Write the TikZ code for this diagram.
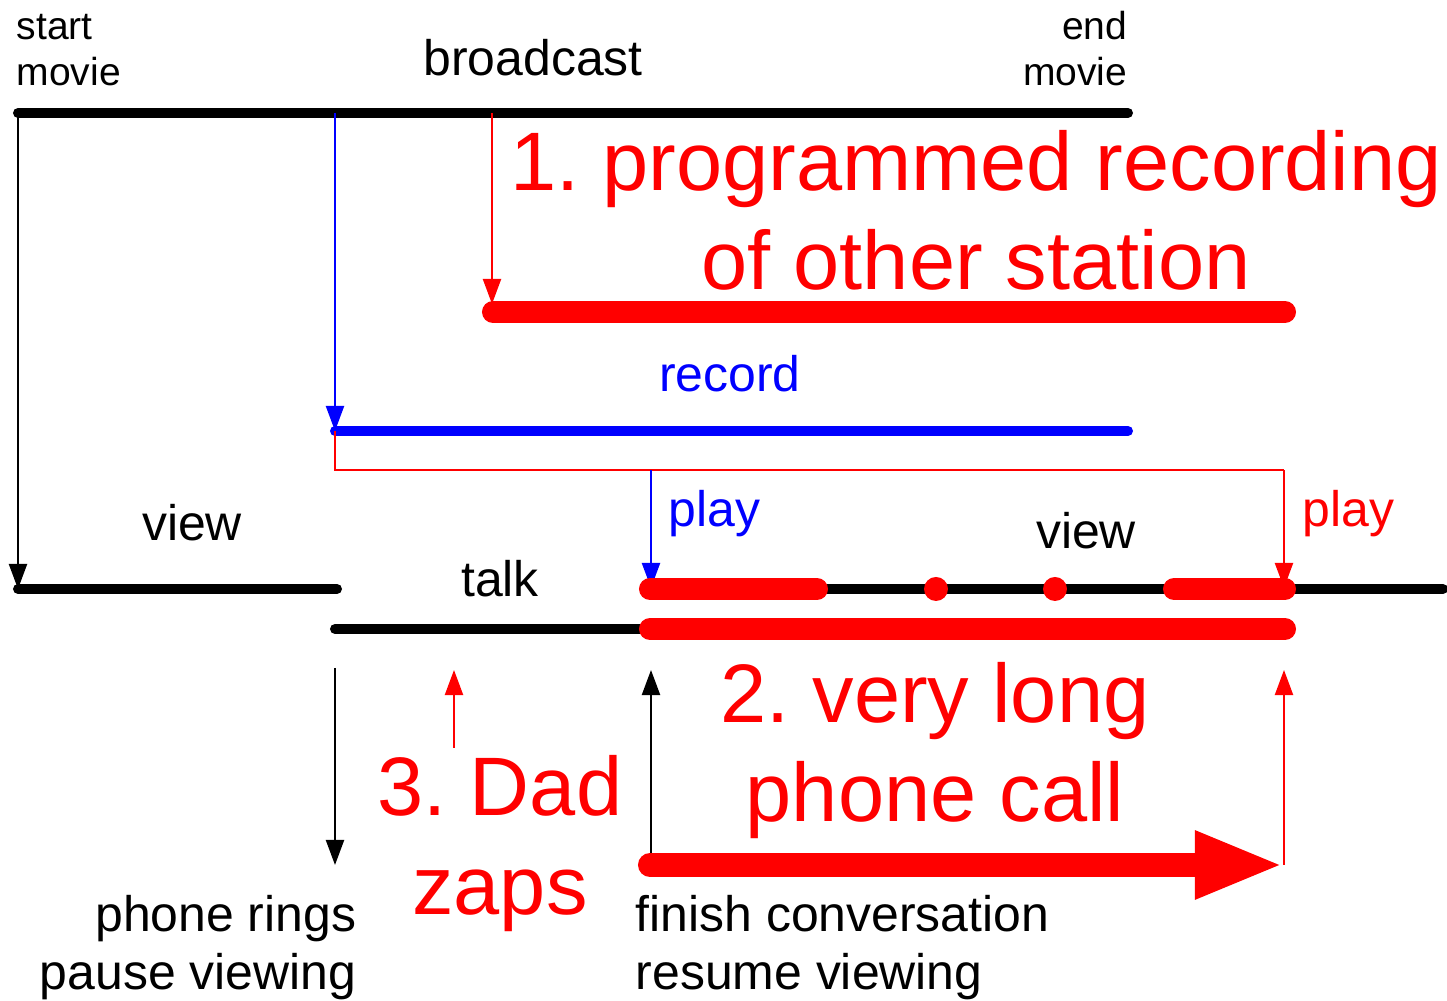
\documentclass[tikz,border=0pt]{standalone}
\usepackage{fontspec}
\setmainfont{Liberation Sans}
\usetikzlibrary{arrows.meta}
\frenchspacing

\tikzset{
    small/.style={font=\fontsize{11.1pt}{13.1pt}\selectfont, inner sep=0pt},
    label/.style={font=\fontsize{14.2pt}{16.5pt}\selectfont, inner sep=0pt},
    big/.style={font=\fontsize{23.6pt}{28.4pt}\selectfont, inner sep=0pt, text=red, align=center},
    timeline/.style={line width=0.1cm, line cap=round},
    fatline/.style={line width=0.22cm, line cap=round, red},
    jump/.style={line width=0.6pt, -{Triangle[length=0.25cm, width=0.18cm]}},
}

\begin{document}
\begin{tikzpicture}[x=0.01cm, y=-0.01cm]
    \useasboundingbox (0, 0) rectangle (1447, 1001);
    % broadcast
    \coordinate (bcStart) at (18, 113);
    \coordinate (bcEnd) at (1128, 113);
    \draw[timeline] (bcStart) -- (bcEnd);
    \node[small, align=left, anchor=base west] (startMovie) at (16, 86) {start\\movie};
    \node[small, align=right, anchor=base east] (endMovie) at (1128, 86) {end\\movie};
    \node[label, anchor=base] (broadcast) at (533, 76) {broadcast};
    % 1. programmed recording
    \coordinate (progTap) at (492, 113);
    \coordinate (progStart) at (493, 312);
    \coordinate (progEnd) at (1285, 312);
    \draw[fatline] (progStart) -- (progEnd);
    \draw[red, jump] (progTap) -- (492, 304);
    \node[big, anchor=base] (progText) at (976, 290) {1. programmed recording\\of other station};
    % record
    \coordinate (recTap) at (335, 113);
    \coordinate (recStart) at (335, 431);
    \coordinate (recEnd) at (1128, 431);
    \draw[blue, timeline] (recStart) -- (recEnd);
    \draw[blue, jump] (recTap) -- (recStart);
    \node[label, anchor=base, text=blue] (record) at (730, 392) {record};
    % play back
    \coordinate (playCorner) at (335, 470);
    \coordinate (playSplit) at (651, 470);
    \coordinate (playTurn) at (1284, 470);
    \coordinate (redPlay) at (1284, 588);
    \coordinate (bluePlay) at (651, 588);
    \draw[red, line width=0.6pt] (recStart) -- (playCorner) -- (playTurn);
    \draw[red, jump] (playTurn) -- (redPlay);
    \draw[blue, jump] (playSplit) -- (bluePlay);
    \node[label, anchor=base west, text=blue] (playBlue) at (668, 527) {play};
    \node[label, anchor=base west, text=red] (playRed) at (1302, 527) {play};
    % view and talk
    \coordinate (viewStart) at (18, 589);
    \coordinate (viewEnd) at (337, 589);
    \coordinate (talkStart) at (335, 629);
    \coordinate (talkEnd) at (650, 629);
    \coordinate (resumeStart) at (650, 589);
    \coordinate (resumeEnd) at (1443, 589);
    \draw[jump] (bcStart) -- (viewStart);
    \draw[timeline] (viewStart) -- (viewEnd);
    \draw[timeline] (talkStart) -- (talkEnd);
    \draw[timeline] (resumeStart) -- (resumeEnd);
    \node[label, anchor=base] (viewLeft) at (192, 541) {view};
    \node[label, anchor=base] (viewRight) at (1086, 549) {view};
    \node[label, anchor=base] (talk) at (500, 597) {talk};
    % 2. very long phone call
    \draw[fatline] (resumeStart) -- (817, 589);
    \draw[fatline] (1174, 589) -- (1285, 589);
    \fill[red] (936, 589) circle (12);
    \fill[red] (1055, 589) circle (12);
    \draw[fatline] (talkEnd) -- (1285, 629);
    \node[big, anchor=base] (callText) at (935, 822) {2. very long\\phone call};
    % events below
    \coordinate (ringTop) at (335, 668);
    \coordinate (ringBottom) at (335, 865);
    \coordinate (zapTop) at (454, 670);
    \coordinate (zapBottom) at (454, 748);
    \coordinate (finishTop) at (651, 670);
    \coordinate (finishBottom) at (651, 855);
    \coordinate (longStart) at (650, 865);
    \coordinate (longEnd) at (1284, 865);
    \coordinate (longTop) at (1284, 670);
    \draw[jump] (ringTop) -- (ringBottom);
    \draw[red, jump] (zapBottom) -- (zapTop);
    \draw[jump] (finishBottom) -- (finishTop);
    \draw[red, line width=0.24cm, line cap=round, -{Triangle[length=0.89cm, width=0.62cm]}] (longStart) -- (longEnd);
    \draw[red, jump] (longEnd) -- (longTop);
    \node[big, anchor=base] (dadText) at (500, 915) {3. Dad\\zaps};
    \node[label, align=right, anchor=base east] (ringText) at (357, 990) {phone rings\\pause viewing};
    \node[label, align=left, anchor=base west] (finishText) at (635, 990) {finish conversation\\resume viewing};
\end{tikzpicture}
\end{document}
